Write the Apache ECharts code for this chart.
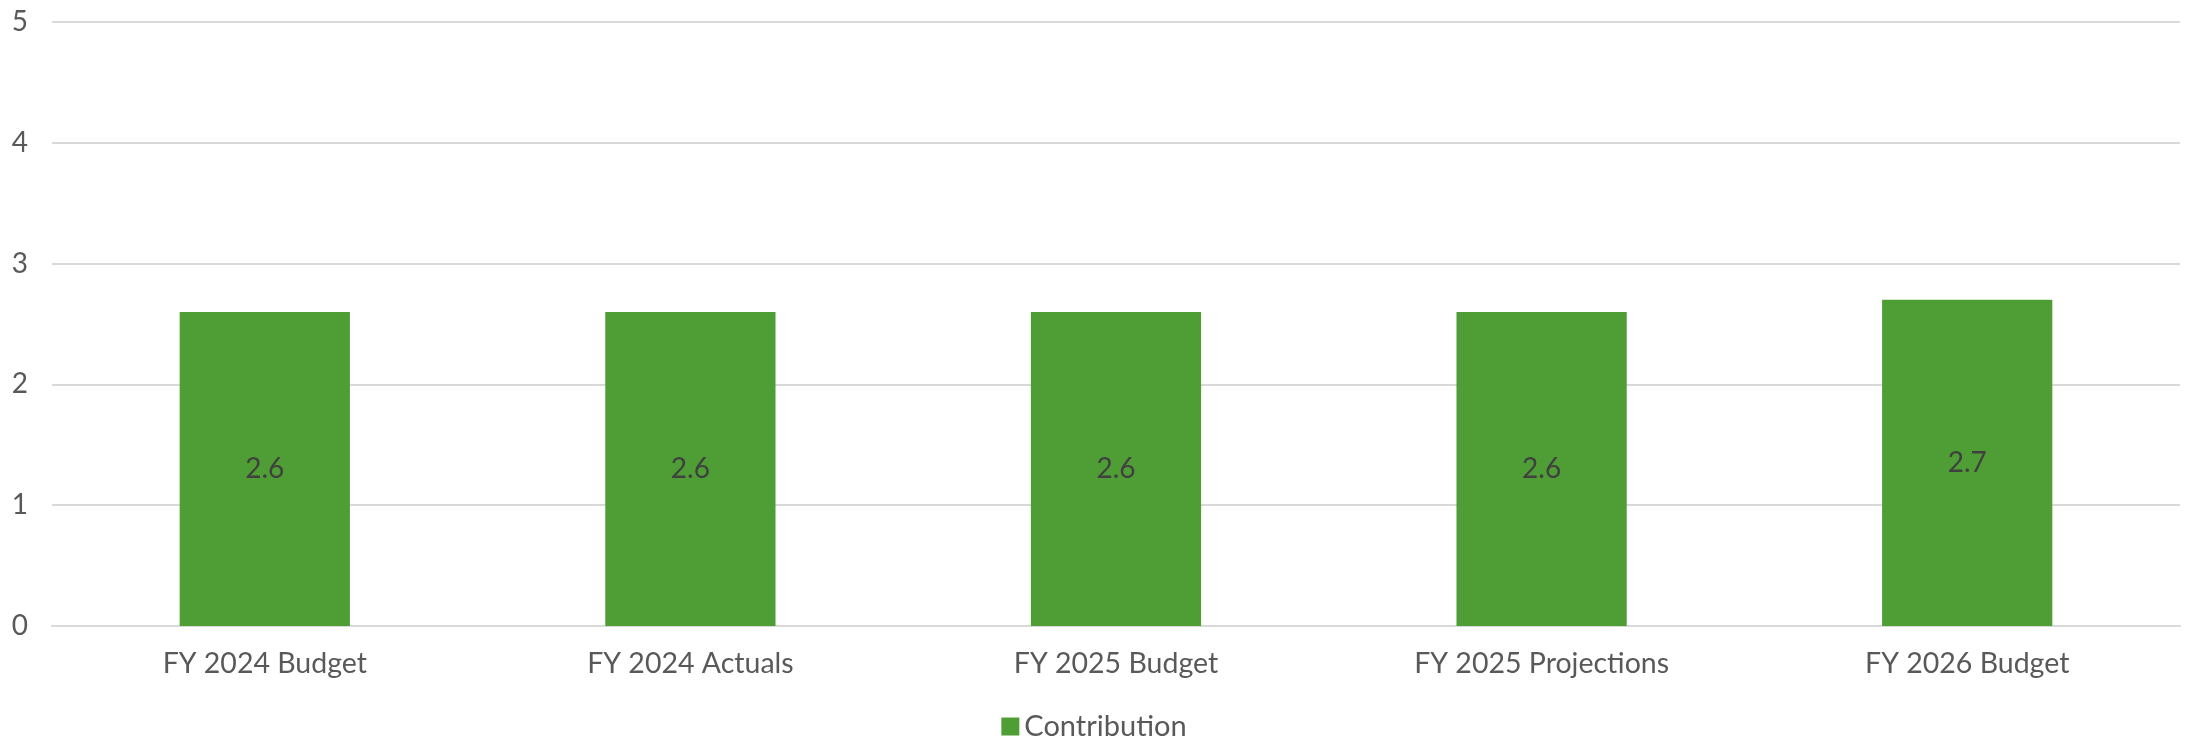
<!DOCTYPE html>
<html><head><meta charset="utf-8">
<style>html,body{margin:0;padding:0;background:#fff}#c{width:2188px;height:739px}</style>
<script src="https://cdn.jsdelivr.net/npm/echarts@6/dist/echarts.min.js"></script>
</head><body><div id="c"></div>
<script>
const categories = ["FY 2024 Budget", "FY 2024 Actuals", "FY 2025 Budget", "FY 2025 Projections", "FY 2026 Budget"];
const contribution = [2.6, 2.6, 2.6, 2.6, 2.7];
const seriesName = "Contribution";
const yTicks = [0, 1, 2, 3, 4, 5];

const FONT = "Lato, 'Open Sans', sans-serif";
const chart = echarts.init(document.getElementById('c'));
chart.setOption({
  animation: false,
  grid: {left: 52, right: 8, top: 22, bottom: 113, containLabel: false},
  legend: {
    top: 707, left: 'center', itemWidth: 18, itemHeight: 18, itemGap: 8,
    icon: 'rect',
    textStyle: {fontFamily: FONT, fontSize: 29, color: '#595959'},
    data: [seriesName]
  },
  xAxis: {
    type: 'category', data: categories,
    axisLine: {show: true, lineStyle: {color: '#d9d9d9', width: 2}},
    axisTick: {show: false},
    axisLabel: {fontFamily: FONT, fontSize: 28.5, color: '#595959', margin: 23}
  },
  yAxis: {
    type: 'value', min: yTicks[0], max: yTicks[yTicks.length - 1], interval: 1,
    axisLine: {show: false}, axisTick: {show: false},
    axisLabel: {fontFamily: FONT, fontSize: 28, color: '#595959', margin: 24},
    splitLine: {lineStyle: {color: '#d9d9d9', width: 2}}
  },
  series: [{
    name: seriesName, type: 'bar', data: contribution, barWidth: '40%',
    itemStyle: {color: '#4f9e35'},
    label: {show: true, position: 'inside', fontFamily: FONT, fontSize: 28, color: '#404040'}
  }]
});
</script></body></html>
